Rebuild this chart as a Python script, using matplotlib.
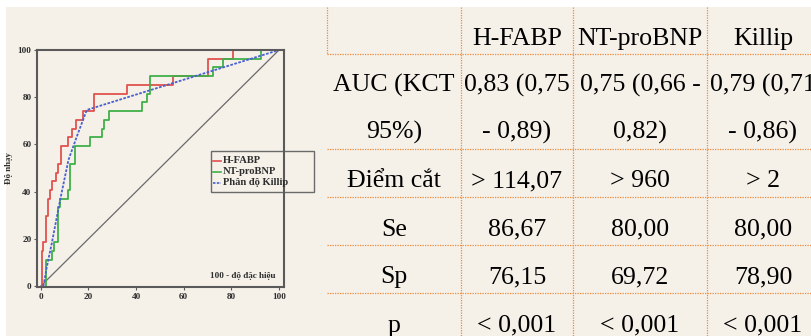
import matplotlib.pyplot as plt
from matplotlib.patches import Rectangle

# ROC points: 100 - specificity (%), sensitivity (%)
hfabp_fpr = [0.4, 0.4, 1.1, 2.1, 3.2, 3.9, 4.9, 6.3, 7.1, 8.5, 11.6, 13.0, 14.7,
             17.8, 22.3, 36.0, 55.5, 70.2, 80.7, 100]
hfabp_tpr = [0, 14.8, 18.5, 29.6, 37.0, 40.7, 44.4, 48.1, 51.9, 59.3, 63.0, 66.7,
             70.4, 74.1, 81.5, 85.2, 88.9, 96.3, 100, 100]

ntprobnp_fpr = [2.1, 2.1, 4.6, 5.7, 7.4, 8.1, 11.6, 12.3, 14.4, 20.6, 25.5, 26.7,
                28.7, 42.3, 44.7, 46.0, 72.3, 76.5, 92.6, 100]
ntprobnp_tpr = [0, 11.1, 14.8, 18.5, 33.3, 37.0, 40.7, 51.9, 59.3, 63.0, 66.7, 70.4,
                74.1, 77.8, 81.5, 88.9, 92.6, 96.3, 100, 100]

killip_fpr = [1.1, 2.5, 4.6, 8.1, 11.6, 15.1, 19.3, 100]
killip_tpr = [0, 8.0, 18.1, 36.4, 53.4, 63.3, 74.6, 100]

series_names = ['H-FABP', 'NT-proBNP', 'Phân độ Killip']
series_colors = ['#e0524f', '#3fb048', '#4a5fd0']

# summary table
col_headers = ['', 'H-FABP', 'NT-proBNP', 'Killip']
row_labels = [['AUC (KCT', '95%)'], ['Điểm cắt'], ['Se'], ['Sp'], ['p']]
table_cells = [
    [['0,83 (0,75', '- 0,89)'], ['0,75 (0,66 -', '0,82)'], ['0,79 (0,71', '- 0,86)']],
    [['> 114,07'], ['> 960'], ['> 2']],
    [['86,67'], ['80,00'], ['80,00']],
    [['76,15'], ['69,72'], ['78,90']],
    [['< 0,001'], ['< 0,001'], ['< 0,001']],
]

W, H = 812, 336
BEIGE = '#f5f1e9'
ORANGE = '#f08a3c'
INK = '#2e2e2e'

fig = plt.figure(figsize=(W / 100, H / 100), dpi=100, facecolor='white')

# pixel-space layer for the background and the table
bg = fig.add_axes([0, 0, 1, 1])
bg.set_xlim(0, W)
bg.set_ylim(H, 0)
bg.axis('off')
bg.add_patch(Rectangle((6, 7), W, H, facecolor=BEIGE, edgecolor='none'))

serif = 'Liberation Serif'
col_x = [394, 517, 640, 763]
dotted = dict(color=ORANGE, lw=0.9, linestyle=(0, (1, 1)))

# grid lines
for x in [461, 573, 707]:
    bg.plot([x, x], [7, H], **dotted)
bg.plot([327, 327], [7, 54], **dotted)
for y in [54, 149, 197, 245, 293]:
    bg.plot([327, W], [y, y], **dotted)

tsize = 18.6
for cx, head in zip(col_x, col_headers):
    bg.text(cx, 45, head, ha='center', va='baseline', fontsize=tsize, family=serif)

row_base = [91.7, 187.3, 235.7, 283.3, 331.7]
for base, lab, cells in zip(row_base, row_labels, table_cells):
    for k, line in enumerate(lab):
        bg.text(col_x[0], base + 47 * k, line, ha='center', va='baseline',
                fontsize=tsize, family=serif)
    for cx, cell in zip(col_x[1:], cells):
        for k, line in enumerate(cell):
            bg.text(cx, base + 47 * k, line, ha='center', va='baseline',
                    fontsize=tsize, family=serif)

# ROC plot
ax = fig.add_axes([37 / W, 1 - 287 / H, 247 / W, 237 / H])
ax.set_facecolor('none')
ax.set_xlim(-1.6, 102.1)
ax.set_ylim(-0.4, 100)

ax.plot([0, 100], [0, 100], color='#6a6a6a', lw=0.9)
ax.plot(hfabp_fpr, hfabp_tpr, drawstyle='steps-post', color=series_colors[0], lw=1.3)
ax.plot(ntprobnp_fpr, ntprobnp_tpr, drawstyle='steps-post', color=series_colors[1], lw=1.3)
ax.plot(killip_fpr, killip_tpr, color=series_colors[2], lw=1.3, linestyle=(0, (1.5, 0.8)))

for s in ax.spines.values():
    s.set_color('#5a5a5a')
    s.set_linewidth(1.5)
ticks = [0, 20, 40, 60, 80, 100]
ax.set_xticks(ticks)
ax.set_yticks(ticks)
ax.tick_params(length=2.5, width=0.8, color='#5a5a5a', pad=1.5)
for lab in ax.get_xticklabels() + ax.get_yticklabels():
    lab.set_family(serif)
    lab.set_fontsize(6.6)
    lab.set_fontweight('bold')
    lab.set_color(INK)

ax.set_ylabel('Độ nhạy', family=serif, fontsize=6.4, fontweight='bold',
              color=INK, labelpad=3)
ax.text(0.835, 0.048, '100 - độ đặc hiệu', transform=ax.transAxes, ha='center',
        va='center', family=serif, fontsize=6.6, fontweight='bold', color=INK)

# legend box, drawn by hand so it can run past the frame
lx0, ly0 = (211 - 37) / 247, (287 - 192) / 237
lw_, lh_ = 103 / 247, 41 / 237
ax.add_patch(Rectangle((lx0, ly0), lw_, lh_, transform=ax.transAxes,
                       facecolor=BEIGE, edgecolor='#6a6a6a', lw=1.0, clip_on=False))
entry_y = [160.7, 171.7, 182.7]
for py, name, c, ls in zip(entry_y, series_names, series_colors,
                            ['-', '-', (0, (1.5, 0.8))]):
    yy = (287 - py) / 237
    ax.plot([(213 - 37) / 247, (221 - 37) / 247], [yy, yy], color=c, lw=1.2,
            linestyle=ls, transform=ax.transAxes, clip_on=False)
    ax.text((223 - 37) / 247, yy, name, transform=ax.transAxes, va='center',
            family=serif, fontsize=7.6, fontweight='bold', color=INK)

fig.savefig('out.png', dpi=100, facecolor=fig.get_facecolor())
